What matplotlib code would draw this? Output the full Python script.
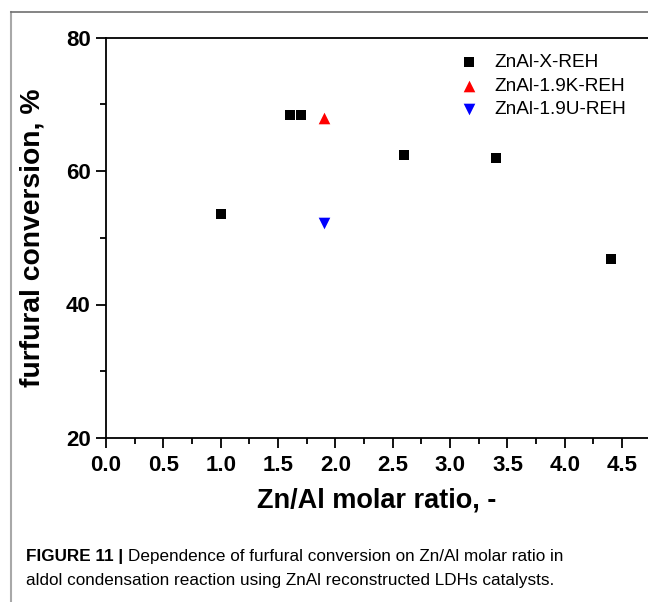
import matplotlib
matplotlib.use("Agg")
import matplotlib.pyplot as plt
from matplotlib.lines import Line2D
from matplotlib.ticker import MultipleLocator

# Data
x_series = [1.0, 1.6, 1.7, 2.6, 3.4, 4.4]
y_series = [53.6, 68.4, 68.4, 62.4, 61.9, 46.8]
x_k = [1.9]
y_k = [68.0]
x_u = [1.9]
y_u = [52.2]
labels = ["ZnAl-X-REH", "ZnAl-1.9K-REH", "ZnAl-1.9U-REH"]
xticks = [0.0, 0.5, 1.0, 1.5, 2.0, 2.5, 3.0, 3.5, 4.0, 4.5]
yticks = [20, 40, 60, 80]

plt.rcParams['font.family'] = ['Liberation Sans', 'DejaVu Sans']

W, H = 648, 602
fig = plt.figure(figsize=(W / 100, H / 100), dpi=100)

left = 106 / W
bottom = (H - 438) / H
top = (H - 37.5) / H
x5 = 106 + 5 * 114.7
axw = x5 - 106
axh = 438 - 37.5
ax = fig.add_axes([left, bottom, axw / W, top - bottom])

ax.scatter(x_series, y_series, marker='s', s=42, color='black', label=labels[0], zorder=3, linewidths=0)
ax.scatter(x_k, y_k, marker='^', s=70, color='red', label=labels[1], zorder=3, linewidths=0)
ax.scatter(x_u, y_u, marker='v', s=70, color='blue', label=labels[2], zorder=3, linewidths=0)

ax.set_xlim(0, 5)
ax.set_ylim(20, 80)
ax.set_xticks(xticks)
ax.set_xticklabels([f"{v:.1f}" for v in xticks])
ax.set_yticks(yticks)
ax.xaxis.set_minor_locator(MultipleLocator(0.25))
ax.yaxis.set_minor_locator(MultipleLocator(10))
ax.tick_params(which='major', direction='out', length=7, width=1.3, labelsize=16)
ax.tick_params(axis='x', which='major', pad=5)
ax.tick_params(axis='y', which='major', pad=4)
ax.tick_params(which='minor', direction='out', length=4, width=1.3)
for lab in ax.get_xticklabels() + ax.get_yticklabels():
    lab.set_fontweight('bold')
for sp in ax.spines.values():
    sp.set_linewidth(1.3)
ax.spines['right'].set_visible(False)

ax.set_xlabel("Zn/Al molar ratio, -", fontsize=19.5, fontweight='bold')
ax.set_ylabel("furfural conversion, %", fontsize=20.3, fontweight='bold')
ax.xaxis.set_label_coords((377 - 106) / axw, -(487 - 438) / axh)
ax.yaxis.set_label_coords(-(106 - 46) / axw, 0.5)

leg = ax.legend(loc='upper left', bbox_to_anchor=((452 - 106) / axw, 0.978),
                frameon=False, fontsize=13.7, handletextpad=0.85, labelspacing=0.32,
                handlelength=1.0, borderaxespad=0, scatterpoints=1)

# outer frame lines
fig.add_artist(Line2D([11 / W, 11 / W], [0, 1 - 12 / H], color='#a8a8a8', lw=1.5, transform=fig.transFigure))
fig.add_artist(Line2D([11 / W, 1], [1 - 12 / H, 1 - 12 / H], color='#707070', lw=1.2, transform=fig.transFigure))

# caption
cap_font = ['Liberation Sans Narrow', 'Liberation Sans', 'DejaVu Sans']
t1 = fig.text(26 / W, 1 - 556 / H, "FIGURE 11 | ", fontsize=12.3, fontweight='bold',
              family=cap_font, va='center', ha='left')
fig.canvas.draw()
bb = t1.get_window_extent()
fig.text(bb.x1 / W, 1 - 556 / H, "Dependence of furfural conversion on Zn/Al molar ratio in",
         fontsize=12.3, family=cap_font, va='center', ha='left')
fig.text(26 / W, 1 - 580 / H, "aldol condensation reaction using ZnAl reconstructed LDHs catalysts.",
         fontsize=12.3, family=cap_font, va='center', ha='left')

fig.savefig("out.png", dpi=100)
